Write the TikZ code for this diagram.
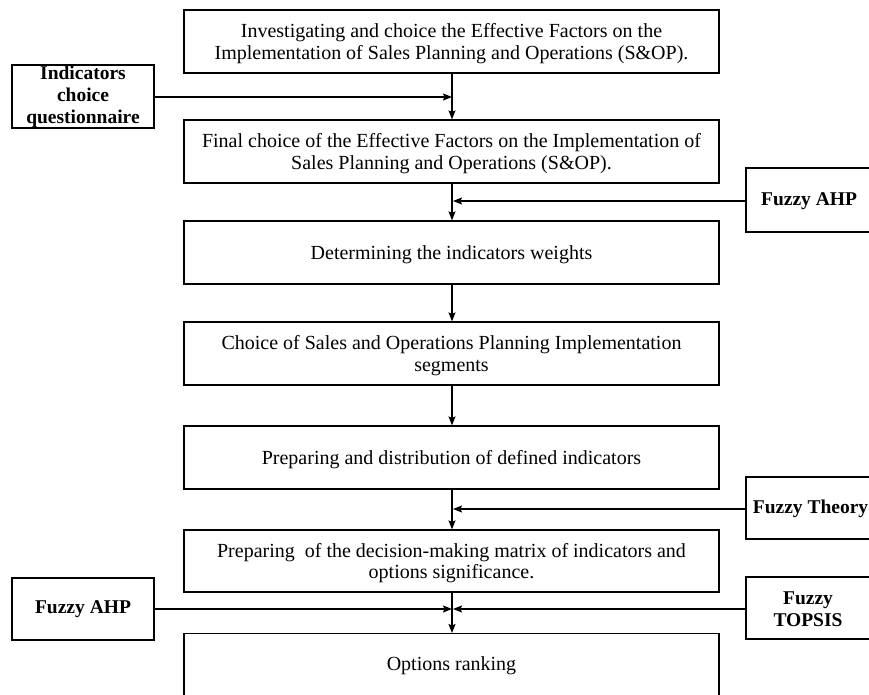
\documentclass[tikz,border=0pt]{standalone}
\usepackage{fontspec}
\setmainfont{Liberation Serif}
\usetikzlibrary{arrows.meta}
\begin{document}
\begin{tikzpicture}[x=1pt,y=-1pt,
  mainbox/.style={draw, line width=1.2pt, minimum width=535pt, align=center,
    font=\fontsize{20}{21.5}\selectfont, inner sep=0pt, text depth=0pt},
  sidebox/.style={draw, line width=1.2pt, align=center,
    font=\fontsize{19.5}{22}\selectfont\bfseries, inner sep=0pt},
  sidetext/.style={font=\fontsize{19.5}{22}\selectfont\bfseries, align=center, inner sep=0pt},
  arr/.style={-{Stealth[length=9pt,width=7pt,inset=1.5pt]}, line width=1.2pt}]
\useasboundingbox (0,0) rectangle (869,695);
\clip (0,0) rectangle (869,695);
% main boxes
\node[mainbox, minimum height=63pt] (b1) at (451.5,41.5) {Investigating and choice the Effective Factors on the\\Implementation of Sales Planning and Operations (S\&OP).};
\node[mainbox, minimum height=63pt] (b2) at (451.5,151.5) {Final choice of the Effective Factors on the Implementation of\\Sales Planning and Operations (S\&OP).};
\node[mainbox, minimum height=63pt] (b3) at (451.5,252.5) {Determining the indicators weights};
\node[mainbox, minimum height=63pt] (b4) at (451.5,353.5) {Choice of Sales and Operations Planning Implementation\\segments};
\node[mainbox, minimum height=63pt] (b5) at (451.5,457.5) {Preparing and distribution of defined indicators};
\node[mainbox, minimum height=62pt] (b6) at (451.5,561) {Preparing\ \ of the decision-making matrix of indicators and\\options significance.};
\node[mainbox, minimum height=80pt, anchor=north] (b7) at (451.5,633) {};
\node[font=\fontsize{20}{21.5}\selectfont, text depth=0pt] (t7) at (451.5,664) {Options ranking};
% side boxes
\node[sidebox, minimum width=142pt, minimum height=63pt] (ind) at (83,96.5) {Indicators\\choice\\questionnaire};
\node[sidebox, minimum width=140pt, minimum height=64pt] (fahpa) at (816,200) {};
\node[sidetext] (fahpat) at (809,201) {Fuzzy AHP};
\node[sidebox, minimum width=140pt, minimum height=62pt] (fth) at (816,508) {};
\node[sidetext] (ftht) at (810.5,509) {Fuzzy Theory};
\node[sidebox, minimum width=140pt, minimum height=62pt] (ftop) at (816,608) {};
\node[sidetext] (ftopt) at (808,609) {Fuzzy\\TOPSIS};
\node[sidebox, minimum width=142pt, minimum height=62pt] (fahpb) at (83,609) {Fuzzy AHP};
% junction coordinates on the axis
\coordinate (j1) at (452,97);
\coordinate (j2) at (452,201);
\coordinate (j3) at (452,509);
\coordinate (j4) at (452,609);
% vertical arrows
\draw[arr] (b1.south -| j1) -- (b2.north -| j1);
\draw[arr] (b2.south -| j1) -- (b3.north -| j1);
\draw[arr] (b3.south -| j1) -- (b4.north -| j1);
\draw[arr] (b4.south -| j1) -- (b5.north -| j1);
\draw[arr] (b5.south -| j1) -- (b6.north -| j1);
\draw[arr] (b6.south -| j1) -- (b7.north -| j1);
% horizontal arrows
\draw[arr] (ind.east |- j1) -- (j1);
\draw[arr] (fahpa.west |- j2) -- ([xshift=1pt]j2);
\draw[arr] (fth.west |- j3) -- ([xshift=1pt]j3);
\draw[arr] (fahpb.east |- j4) -- (j4);
\draw[arr] (ftop.west |- j4) -- ([xshift=1pt]j4);
\end{tikzpicture}
\end{document}
